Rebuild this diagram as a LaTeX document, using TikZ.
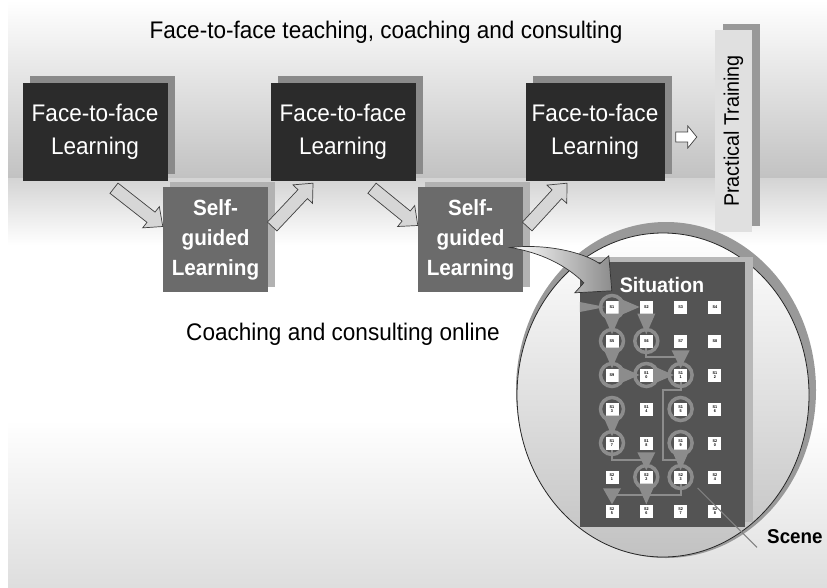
\documentclass[tikz,border=0pt]{standalone}
\usepackage{fontspec}
\setmainfont{Liberation Sans}[FakeStretch=0.94]
\usetikzlibrary{calc,shadows}

\tikzset{
  label/.style={inner sep=0pt, font=\fontsize{24}{28}\selectfont},
  ffbox/.style={fill=black!83, text=white, inner sep=0pt, minimum height=98pt, align=center,
    font=\fontsize{24}{33}\selectfont,
    drop shadow={shadow xshift=7pt, shadow yshift=7pt, fill=black!46, opacity=1}},
  sgbox/.style={fill=black!58, text=white, inner sep=0pt, minimum width=105pt, minimum height=105pt,
    align=center, font=\fontsize{22}{30}\selectfont\bfseries,
    drop shadow={shadow xshift=7pt, shadow yshift=5pt, fill=black!30, opacity=1}},
  ptbox/.style={fill=black!12, inner sep=0pt, minimum width=37pt, minimum height=202pt,
    font=\fontsize{21}{24}\selectfont,
    drop shadow={shadow xshift=8pt, shadow yshift=6pt, fill=black!40, opacity=1}},
  sitbox/.style={fill=black!67, inner sep=0pt, minimum width=165pt, minimum height=265pt,
    drop shadow={shadow xshift=8pt, shadow yshift=5pt, fill=black!28, opacity=1}},
  cell/.style={fill=white, inner sep=0pt, minimum size=13pt, align=center,
    font=\fontsize{4}{4.5}\selectfont\bfseries},
  ring/.style={circle, draw=black!45, line width=3.5pt, minimum size=23pt, inner sep=0pt},
  flow/.style={fill=black!45, to path={($(\tikztostart)!#1!90:(\tikztotarget)$)
    -- (\tikztotarget) -- ($(\tikztostart)!#1!-90:(\tikztotarget)$) -- cycle}},
  flow/.default=9pt,
  flowline/.style={draw=black!45, line width=1.8pt},
  blockarrow/.style n args={3}{draw=black!75, line width=0.7pt, line join=miter, to path={
    ($(\tikztostart)!#1!90:(\tikztotarget)$)
    -- ($(\tikztotarget)!#3!(\tikztostart)!#1!90:(\tikztotarget)$)
    -- ($(\tikztotarget)!#3!(\tikztostart)!#2!90:(\tikztotarget)$)
    -- (\tikztotarget)
    -- ($(\tikztotarget)!#3!(\tikztostart)!#2!-90:(\tikztotarget)$)
    -- ($(\tikztotarget)!#3!(\tikztostart)!#1!-90:(\tikztotarget)$)
    -- ($(\tikztostart)!#1!-90:(\tikztotarget)$) -- cycle}},
  learnarrow/.style={blockarrow={6.5pt}{13.5pt}{15pt}, fill=black!16},
  nextarrow/.style={blockarrow={5pt}{11pt}{9pt}, fill=white},
  bendarrow/.style={left color=white, right color=black!45, draw=black!80, line width=0.7pt},
  leader/.style={draw=black!50, line width=1.2pt}
}

\begin{document}
\begin{tikzpicture}[x=1pt,y=-1pt]
\useasboundingbox (0,0) rectangle (827,587);
\fill[white] (0,0) rectangle (827,587);
\shade[top color=white, bottom color=black!24] (8,0) rectangle (827,178);
\shade[top color=black!17, bottom color=white] (8,178) rectangle (827,245);
\shade[top color=white, bottom color=black!13] (8,420) rectangle (827,587);

\node[label, anchor=base] (ftitle) at (386,38) {Face-to-face teaching, coaching and consulting};
\node[label, anchor=base] (otitle) at (343,340) {Coaching and consulting online};

\node[ffbox, minimum width=145pt] (ff1) at (95,132) {Face-to-face\\Learning};
\node[ffbox, minimum width=145pt] (ff2) at (343,132) {Face-to-face\\Learning};
\node[ffbox, minimum width=139pt] (ff3) at (595,132) {Face-to-face\\Learning};
\node[sgbox] (sg1) at (215.5,239.5) {Self-\\guided\\Learning};
\node[sgbox] (sg2) at (470.5,239.5) {Self-\\guided\\Learning};
\node[ptbox] (pt) at (733.5,131) {\rotatebox{90}{Practical Training}};

\draw[learnarrow] ([shift={(19,7)}]ff1.south) to ([shift={(0,-13)}]sg1.west);
\draw[learnarrow] ([shift={(4,-13)}]sg1.east) to ([shift={(-30,2)}]ff2.south);
\draw[learnarrow] ([shift={(29,7)}]ff2.south) to ([shift={(0,-14)}]sg2.west);
\draw[learnarrow] ([shift={(4,-13)}]sg2.east) to ([shift={(-28,2)}]ff3.south);
\draw[nextarrow] ([shift={(11,5)}]ff3.east) to ([shift={(-18,6)}]pt.west);

% magnified situation
\fill[black!40] (666,390) ellipse [x radius=150pt, y radius=168pt];
\shadedraw[top color=white, bottom color=black!24, draw=black!85, line width=0.8pt]
  (663,395) ellipse [x radius=146pt, y radius=162pt];
\node[sitbox] (sit) at (662.5,394.5) {};
\node[inner sep=0pt, anchor=base, text=white, font=\fontsize{21}{24}\selectfont\bfseries] (sitlabel) at (662,292) {Situation};

\foreach \r in {1,...,7}
  \foreach \c in {1,...,4} {
    \pgfmathtruncatemacro\n{4*(\r-1)+\c}
    \pgfmathtruncatemacro\tens{\n/10}
    \pgfmathtruncatemacro\ones{mod(\n,10)}
    \ifnum\n<10 \def\lbl{S\n}\else \def\lbl{S\tens\\\ones}\fi
    \node[cell] (c\n) at ({612+34.3*(\c-1)},{307+34*(\r-1)}) {\lbl};
  }

\foreach \n in {1,5,6,9,10,11,13,15,17,19,22,23}
  \node[ring] (r\n) at (c\n) {};

\fill[flow=5pt] (sit.west |- c1) to (c1.west);
\foreach \a/\b in {1/2,9/10,10/11}
  \fill[flow] (c\a.east) to (c\b.west);
\foreach \a/\b in {1/5,2/6,5/9,13/17,19/23,22/26}
  \fill[flow] (c\a.south) to (c\b.north);

\coordinate (t11) at ($(c11.north)+(0,-18)$);
\coordinate (t22) at ($(c22.north)+(0,-18)$);
\coordinate (t25) at ($(c25.north)+(0,-16)$);
\draw[flowline] (c6.south) |- ($(t11)+(0,7)$);
\fill[flow] (t11) to (c11.north);
\draw[flowline] (c11.south) |- (663,390) |- (681,460);
\draw[flowline] (c17.south) |- ($(t22)+(0,8)$);
\fill[flow] (t22) to (c22.north);
\draw[flowline] (c23.south) |- ($(t25)+(0,7)$);
\fill[flow] (t25) to (c25.north);

\coordinate (bendtail) at ([shift={(-13,8)}]sg2.east);
\coordinate (bendtip) at ([shift={(32,29)}]sit.north west);
\shadedraw[bendarrow] (bendtail) .. controls ($(bendtail)+(35,-4)$) and ($(bendtip)+(-29,-39)$) .. ($(bendtip)+(-12,-27)$)
  -- ($(bendtip)+(-3,-35)$) -- (bendtip) -- ($(bendtip)+(-37,2)$) -- ($(bendtip)+(-28,-8)$)
  .. controls ($(bendtip)+(-46,-26)$) and ($(bendtail)+(30,5)$) .. (bendtail) -- cycle;

\node[inner sep=0pt, anchor=base west, font=\fontsize{20}{24}\selectfont\bfseries] (scene) at (767,543) {Scene};
\draw[leader] ([shift={(17,11)}]c23.center) -- ([shift={(-10,4)}]scene.south west);
\end{tikzpicture}
\end{document}
